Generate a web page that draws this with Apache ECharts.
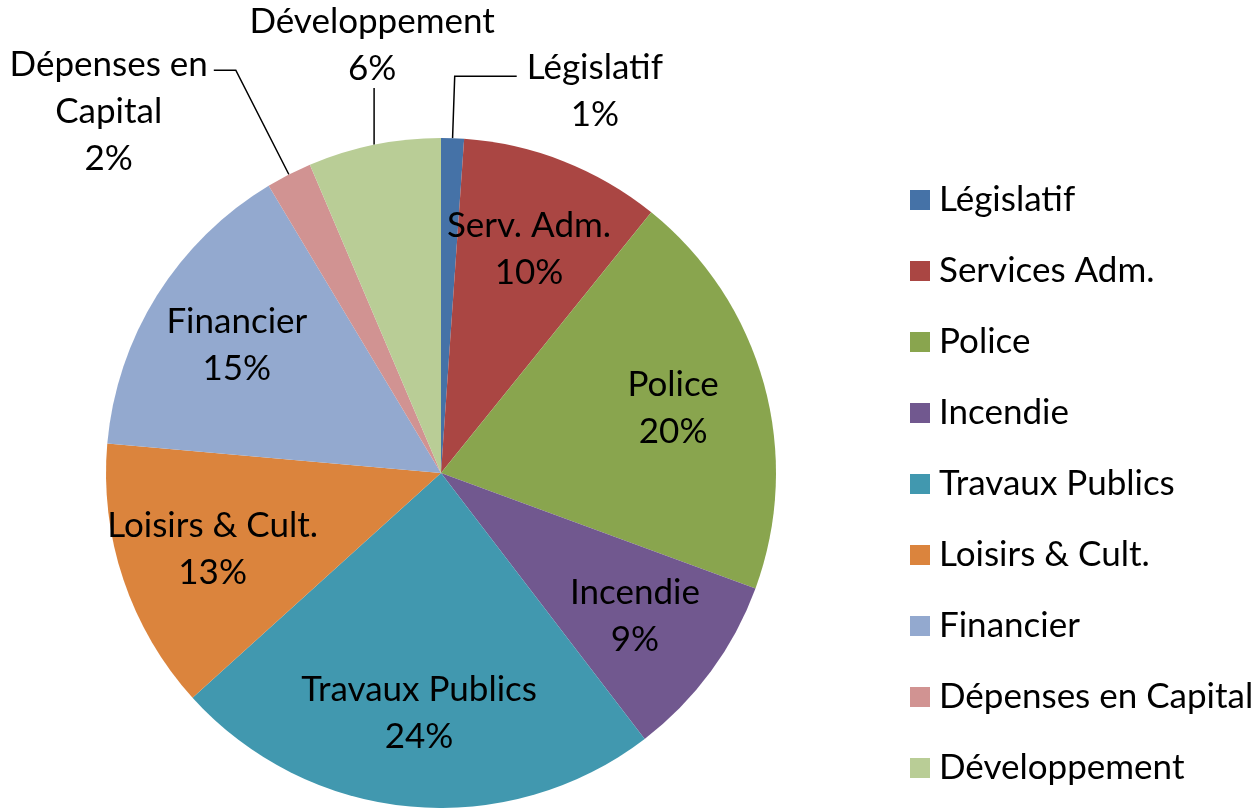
<!DOCTYPE html>
<html>
<head>
<meta charset="utf-8">
<script src="https://cdn.jsdelivr.net/npm/echarts@6/dist/echarts.min.js"></script>
<style>
  html, body { margin: 0; padding: 0; background: #fff; }
  #chart { width: 1260px; height: 808px; }
</style>
</head>
<body>
<div id="chart"></div>
<script type="text/javascript">
// budget share by department
var names = ['Législatif', 'Services Adm.', 'Police', 'Incendie', 'Travaux Publics',
             'Loisirs & Cult.', 'Financier', 'Dépenses en Capital', 'Développement'];
var shortNames = ['Législatif', 'Serv. Adm.', 'Police', 'Incendie', 'Travaux Publics',
                  'Loisirs & Cult.', 'Financier', 'Dépenses en\nCapital', 'Développement'];
var values = [1.1, 9.7, 19.8, 9.0, 23.7, 13.1, 15.0, 2.2, 6.4];
var colors = ['#4572A7', '#AA4643', '#89A54E', '#71588F', '#4198AF',
              '#DB843D', '#93A9CF', '#D19392', '#B9CD96'];
var outsideIdx = [0, 7, 8];

var FONT = 'Lato';
var FS = 35;
var chart = echarts.init(document.getElementById('chart'));

function pct(p) { return shortNames[p.dataIndex] + '\n' + Math.round(p.percent) + '%'; }

var mainData = names.map(function (n, i) {
  var d = { name: n, value: values[i], itemStyle: { color: colors[i] } };
  if (outsideIdx.indexOf(i) < 0) {
    d.label = { show: false };
    d.labelLine = { show: false };
  }
  return d;
});
mainData[0].labelLine = { show: true, length: 62, length2: 62 };
mainData[7].labelLine = { show: true, length: 117, length2: 22 };
mainData[8].labelLine = { show: true, length: 58, length2: 0 };

var labelData = names.map(function (n, i) {
  return { name: n, value: values[i], itemStyle: { color: 'transparent' },
           label: { show: outsideIdx.indexOf(i) < 0 } };
});

var option = {
  animation: false,
  legend: {
    orient: 'vertical',
    left: 905,
    top: 175,
    itemWidth: 20,
    itemHeight: 20,
    itemGap: 31,
    icon: 'rect',
    textStyle: { fontFamily: FONT, fontSize: FS, color: '#000', lineHeight: 40, padding: [0, 0, 0, 4] },
    data: names
  },
  series: [
    {
      name: 'budget',
      type: 'pie',
      center: [441, 473],
      radius: 335,
      startAngle: 90,
      silent: true,
      avoidLabelOverlap: false,
      data: mainData,
      label: {
        show: true,
        position: 'outside',
        formatter: pct,
        fontFamily: FONT,
        fontSize: FS,
        lineHeight: 47,
        color: '#000'
      },
      labelLine: { lineStyle: { color: '#000', width: 1.5 } },
      labelLayout: function (p) {
        var pts = p.labelLinePoints;
        if (!pts) return {};
        var w = p.labelRect.width;
        if (p.dataIndex === 0) {
          return { x: pts[2][0] + 10 + w / 2, y: pts[2][1] - 32, align: 'center', verticalAlign: 'top',
                   labelLinePoints: pts };
        }
        if (p.dataIndex === 7) {
          return { x: pts[2][0] - 6 - w / 2, y: pts[2][1] - 29, align: 'center', verticalAlign: 'top',
                   labelLinePoints: pts };
        }
        if (p.dataIndex === 8) {
          var top = [pts[0][0], pts[1][1]];
          return { x: top[0] - 2, y: top[1] + 4, align: 'center', verticalAlign: 'bottom',
                   labelLinePoints: [pts[0], top] };
        }
        return {};
      }
    },
    {
      name: 'labels',
      type: 'pie',
      center: [441, 473],
      radius: 335 * 1.42,
      startAngle: 90,
      silent: true,
      data: labelData,
      label: {
        position: 'inside',
        formatter: pct,
        fontFamily: FONT,
        fontSize: FS,
        lineHeight: 47,
        color: '#000'
      },
      labelLine: { show: false }
    }
  ]
};

chart.setOption(option);
</script>
</body>
</html>
